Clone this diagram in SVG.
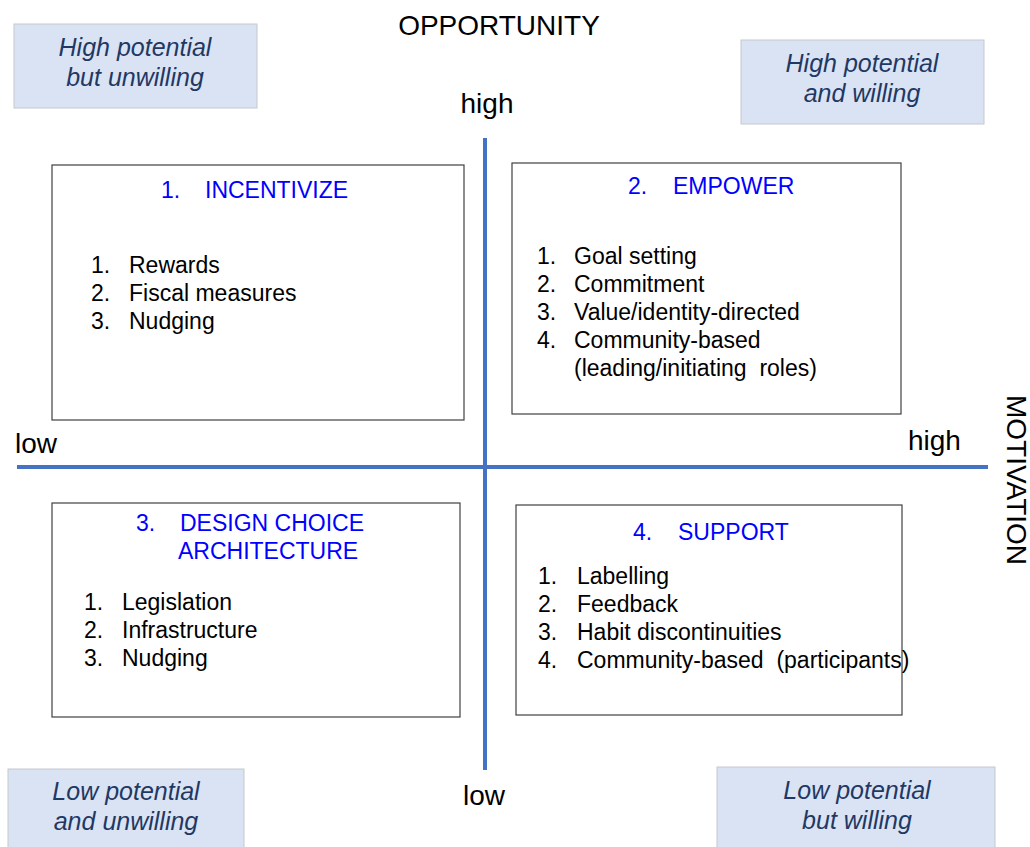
<svg xmlns="http://www.w3.org/2000/svg" width="1030" height="847" viewBox="0 0 1030 847">
  <style>
    .bg { fill: #ffffff; }
    .tag rect { fill: #dae3f3; stroke: #c4c8cf; stroke-width: 1; }
    .tag text { font-family: "Liberation Sans", Arial, sans-serif; font-style: italic; font-size: 25px; fill: #1f3864; text-anchor: middle; }
    .axis-label { font-family: "Liberation Sans", Arial, sans-serif; font-size: 28px; fill: #000000; }
    .axis { stroke: #4472c4; stroke-width: 4; fill: none; }
    .box rect { fill: #ffffff; stroke: #404040; stroke-width: 1.2; }
    .title { font-family: "Liberation Sans", Arial, sans-serif; font-size: 23px; fill: #0000ff; }
    .item { font-family: "Liberation Sans", Arial, sans-serif; font-size: 23px; fill: #000000; }
  </style>
  <rect class="bg" x="0" y="0" width="1030" height="847"/>

  <!-- corner tags -->
  <g id="tag-high-unwilling" class="tag">
    <rect x="14" y="24" width="243" height="84"/>
    <text x="135" y="56">High potential</text>
    <text x="135" y="86">but unwilling</text>
  </g>
  <g id="tag-high-willing" class="tag">
    <rect x="741" y="40" width="243" height="84"/>
    <text x="862" y="72">High potential</text>
    <text x="862" y="102">and willing</text>
  </g>
  <g id="tag-low-unwilling" class="tag">
    <rect x="8" y="769" width="236" height="90"/>
    <text x="126" y="800">Low potential</text>
    <text x="126" y="830">and unwilling</text>
  </g>
  <g id="tag-low-willing" class="tag">
    <rect x="717" y="767" width="278" height="92"/>
    <text x="857" y="799">Low potential</text>
    <text x="857" y="829">but willing</text>
  </g>

  <!-- axes -->
  <g id="axes">
    <line class="axis" x1="485" y1="138" x2="485" y2="770"/>
    <line class="axis" x1="17" y1="467" x2="988" y2="467"/>
  </g>

  <g id="axis-labels">
    <text class="axis-label" x="499" y="35" text-anchor="middle" font-size="29">OPPORTUNITY</text>
    <text class="axis-label" x="487" y="113" text-anchor="middle">high</text>
    <text class="axis-label" x="484" y="805" text-anchor="middle">low</text>
    <text class="axis-label" x="15" y="453">low</text>
    <text class="axis-label" x="908" y="450">high</text>
    <text class="axis-label" x="0" y="0" text-anchor="middle" font-size="27.5" transform="translate(1007 480) rotate(90)">MOTIVATION</text>
  </g>

  <!-- quadrant 1 -->
  <g id="incentivize" class="box">
    <rect x="52" y="165" width="412" height="255"/>
    <text class="title" x="161" y="198">1.</text>
    <text class="title" x="205" y="198">INCENTIVIZE</text>
    <text class="item" x="91" y="273">1.</text><text class="item" x="129" y="273">Rewards</text>
    <text class="item" x="91" y="301">2.</text><text class="item" x="129" y="301">Fiscal measures</text>
    <text class="item" x="91" y="329">3.</text><text class="item" x="129" y="329">Nudging</text>
  </g>

  <!-- quadrant 2 -->
  <g id="empower" class="box">
    <rect x="512" y="163" width="389" height="251"/>
    <text class="title" x="628" y="194">2.</text>
    <text class="title" x="673" y="194">EMPOWER</text>
    <text class="item" x="537" y="264">1.</text><text class="item" x="574" y="264">Goal setting</text>
    <text class="item" x="537" y="292">2.</text><text class="item" x="574" y="292">Commitment</text>
    <text class="item" x="537" y="320">3.</text><text class="item" x="574" y="320">Value/identity-directed</text>
    <text class="item" x="537" y="348">4.</text><text class="item" x="574" y="348">Community-based</text>
    <text class="item" x="574" y="376" xml:space="preserve">(leading/initiating  roles)</text>
  </g>

  <!-- quadrant 3 -->
  <g id="design-choice" class="box">
    <rect x="52" y="503" width="408" height="214"/>
    <text class="title" x="136" y="531">3.</text>
    <text class="title" x="180" y="531">DESIGN CHOICE</text>
    <text class="title" x="178" y="559">ARCHITECTURE</text>
    <text class="item" x="84" y="610">1.</text><text class="item" x="122" y="610">Legislation</text>
    <text class="item" x="84" y="638">2.</text><text class="item" x="122" y="638">Infrastructure</text>
    <text class="item" x="84" y="666">3.</text><text class="item" x="122" y="666">Nudging</text>
  </g>

  <!-- quadrant 4 -->
  <g id="support" class="box">
    <rect x="516" y="505" width="386" height="210"/>
    <text class="title" x="633" y="540">4.</text>
    <text class="title" x="678" y="540">SUPPORT</text>
    <text class="item" x="538" y="584">1.</text><text class="item" x="577" y="584">Labelling</text>
    <text class="item" x="538" y="612">2.</text><text class="item" x="577" y="612">Feedback</text>
    <text class="item" x="538" y="640">3.</text><text class="item" x="577" y="640">Habit discontinuities</text>
    <text class="item" x="538" y="668">4.</text><text class="item" x="577" y="668" xml:space="preserve">Community-based  (participants)</text>
  </g>
</svg>
